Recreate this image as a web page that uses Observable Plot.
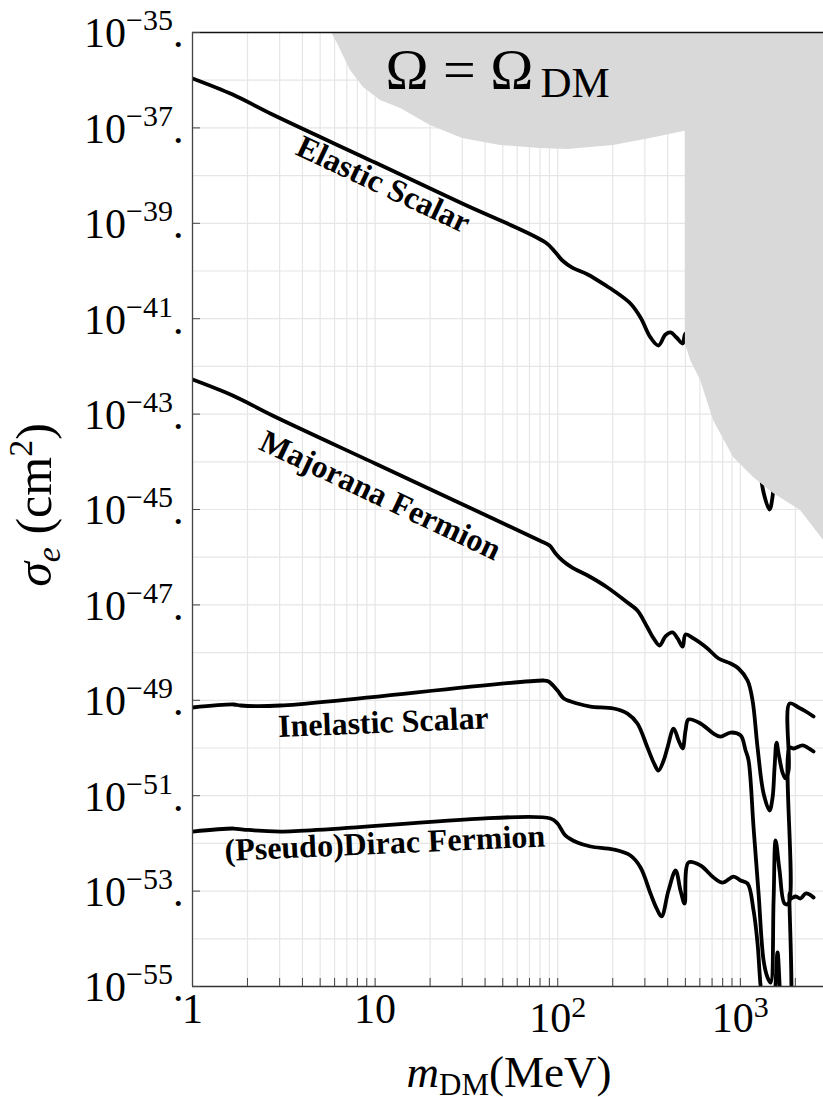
<!DOCTYPE html>
<html>
<head>
<meta charset="utf-8">
<script src="https://cdn.jsdelivr.net/npm/d3@7"></script>
<script src="https://cdn.jsdelivr.net/npm/@observablehq/plot@0.6"></script>
<style>
  html, body { margin: 0; padding: 0; background: #fff; }
  #chart { width: 823px; height: 1097px; overflow: hidden; }
</style>
</head>
<body>
<div id="chart"></div>
<script>
// Relic-target DM–electron cross sections σ_e (cm²) against DM mass (MeV)

// Elastic scalar
const elasticMass  = [1, 1.66, 2.74, 10, 30, 85.8, 97.3, 106, 120, 146, 187, 202, 250, 284, 322, 356, 389, 415, 447, 483,
                      501, 554, 661, 760, 884, 977, 1095, 1166, 1242, 1340, 1445, 1501, 1539, 1578, 1619, 1702, 1768, 1837,
                      1860, 2136, 2517];
const elasticSigma = [1.09e-36, 5.01e-37, 1.91e-37, 1.88e-38, 2.60e-39, 3.95e-40, 2.44e-40, 1.66e-40, 1.18e-40, 8.45e-41,
                      4.73e-41, 3.90e-41, 2.08e-41, 1.06e-41, 4.04e-42, 2.74e-42, 4.67e-42, 5.14e-42, 4.04e-42, 3.02e-42,
                      4.90e-42, 4.04e-42, 2.49e-42, 1.54e-42, 1.21e-42, 9.48e-43, 5.31e-43, 2.02e-43, 2.09e-44, 2.27e-45,
                      1.00e-45, 1.87e-45, 7.96e-45, 2.67e-44, 1.57e-44, 6.27e-45, 4.69e-45, 8.77e-45,
                      1.75e-43, 1.44e-43, 9.82e-44];

// Majorana fermion
const majoranaMass  = [1, 1.66, 2.74, 10, 30, 79.5, 90.2, 97.3, 106, 120, 146, 187, 241, 273, 310, 335, 361, 389, 425, 453,
                       483, 501, 554, 661, 760, 884, 977, 1095, 1166, 1242, 1340, 1445, 1501, 1539, 1578, 1619, 1702, 1768,
                       1837, 1860, 2083, 2333, 2517];
const majoranaSigma = [5.31e-43, 2.45e-43, 9.35e-44, 9.20e-45, 1.29e-45, 2.24e-46, 1.76e-46, 1.20e-46, 8.53e-47, 6.08e-47,
                       4.13e-47, 2.32e-47, 1.12e-47, 7.64e-48, 3.36e-48, 1.98e-48, 1.41e-48, 2.18e-48, 2.64e-48, 1.98e-48,
                       1.34e-48, 2.39e-48, 1.98e-48, 1.22e-48, 7.52e-49, 5.90e-49, 4.64e-49, 2.60e-49, 9.91e-50, 1.02e-50,
                       1.11e-51, 4.90e-52, 9.16e-52, 3.90e-51, 1.30e-50, 7.67e-51, 3.06e-51, 2.30e-51,
                       3.40e-51, 8.57e-50, 7.06e-50, 5.55e-50, 4.57e-50];

// Inelastic scalar
const inelasticMass  = [1, 1.68, 1.83, 3.03, 83.6, 89.1, 99.7, 108, 128, 151, 202, 241, 273, 310, 335, 356, 380, 399, 431,
                        459, 483, 501, 520, 605, 713, 779, 884, 1003, 1068, 1109, 1181, 1258, 1340, 1409, 1464, 1520, 1559,
                        1639, 1746, 1837, 1860, 1956, 2191, 2333, 2517];
const inelasticSigma = [7.06e-50, 8.17e-50, 7.78e-50, 7.78e-50, 2.60e-49, 2.48e-49, 1.60e-49, 1.09e-49, 8.57e-50, 7.41e-50,
                        6.73e-50, 5.28e-50, 3.27e-50, 1.02e-50, 4.97e-51, 3.37e-51, 5.47e-51, 1.02e-50, 2.56e-50,
                        1.44e-50, 9.77e-51, 2.33e-50, 3.95e-50, 3.27e-50, 2.01e-50, 1.74e-50, 2.11e-50, 1.83e-50, 8.87e-51,
                        5.47e-51, 2.15e-52, 8.91e-54, 3.51e-55, 1.55e-55, 1.21e-55, 6.35e-54, 1.15e-52,
                        2.70e-53, 5.50e-54, 5.50e-54, 1.02e-50, 9.77e-51, 1.13e-50, 1.02e-50, 8.45e-51];

// (Pseudo)Dirac fermion
const diracMass  = [1, 1.68, 1.90, 3.03, 91.3, 99.7, 110, 128, 151, 202, 250, 284, 322, 348, 370, 404, 442, 470, 495, 520,
                    605, 713, 799, 918, 1003, 1095, 1181, 1242, 1290, 1340, 1464, 1539, 1598, 1661, 1746, 1837, 1860,
                    1883, 2006, 2136, 2275, 2393, 2517];
const diracSigma = [1.77e-52, 2.05e-52, 1.95e-52, 1.77e-52, 3.33e-52, 2.61e-52, 1.47e-52, 1.04e-52, 8.61e-53, 7.45e-53,
                    5.57e-53, 3.13e-53, 8.91e-54, 4.32e-54, 2.94e-54, 1.03e-53, 2.70e-53, 1.03e-53, 5.50e-54, 3.98e-53,
                    3.44e-53, 1.93e-53, 1.51e-53, 2.02e-53, 1.67e-53, 1.44e-53, 3.92e-54, 7.96e-55, 1.05e-55, 3.14e-56,
                    1.20e-56, 5.08e-56, 5.16e-55, 5.08e-56, 1.20e-56, 1.20e-56, 8.91e-54,
                    7.00e-54, 7.71e-54, 7.00e-54, 8.91e-54, 8.49e-54, 7.35e-54];

// Shaded region (Ω = Ω_DM): lower edge of the excluded band
const relicMass  = [5.77, 6.22, 7.33, 8.64, 10.7, 13.8, 20.1, 30.1, 48.6, 80.5, 113, 202, 322, 489, 500, 500, 534, 606,
                    713, 918, 1181, 1520, 2137, 2518, 2857, 3000];
const relicLower = [1e-35, 5.87e-36, 1.60e-36, 7.03e-37, 3.75e-37, 2.55e-37, 1.12e-37, 6.0e-38, 4.28e-38, 3.70e-38,
                    3.52e-38, 4.28e-38, 6.0e-38, 8.41e-38, 8.41e-38, 3.02e-42, 1.33e-42, 5.06e-43, 7.35e-44, 1.23e-44,
                    4.69e-45, 2.16e-45, 9.53e-46, 4.20e-46, 2.24e-46, 1.76e-46];

// Curve labels
const labelText  = ["Elastic Scalar", "Majorana Fermion", "Inelastic Scalar", "(Pseudo)Dirac Fermion"];
const labelMass  = [11.1, 10.7, 11.1, 11.3];
const labelSigma = [6.5e-39, 1.97e-45, 3.43e-50, 1.0e-52];
const labelAngle = [25.2, 25.3, -2.4, -2.6];

// Axes
const xDomain = [1, 3000];
const yDomain = [1e-55, 1e-35];
const xGridValues = [1, 2, 3, 4, 5, 6, 7, 8, 9, 10, 20, 30, 40, 50, 60, 70, 80, 90,
                     100, 200, 300, 400, 500, 600, 700, 800, 900, 1000, 2000, 3000];
const xLabelValues = [1, 10, 100, 1000];
const yGridValues = [1e-35, 1e-36, 1e-37, 1e-38, 1e-39, 1e-40, 1e-41, 1e-42, 1e-43, 1e-44, 1e-45,
                     1e-46, 1e-47, 1e-48, 1e-49, 1e-50, 1e-51, 1e-52, 1e-53, 1e-54, 1e-55];
const yLabelValues = [1e-35, 1e-37, 1e-39, 1e-41, 1e-43, 1e-45, 1e-47, 1e-49, 1e-51, 1e-53, 1e-55];

const series = (mass, sigma) => mass.map((m, i) => ({m, s: sigma[i]}));
const curves = [
  series(elasticMass, elasticSigma),
  series(majoranaMass, majoranaSigma),
  series(inelasticMass, inelasticSigma),
  series(diracMass, diracSigma)
];
const relic = relicMass.map((m, i) => ({m, lo: relicLower[i], hi: yDomain[1]}));
const labels = labelText.map((text, i) => ({text, m: labelMass[i], s: labelSigma[i], angle: labelAngle[i]}));

const exponent = (d) => Math.round(Math.log10(d));
const minus = (e) => (e < 0 ? "\u2212" + (-e) : String(e));
const yFormat = (d) => `10^${minus(exponent(d))}.`;
const xFormat = (d) => {
  const e = exponent(d);
  return e === 0 ? "1" : e === 1 ? "10" : `10^${e}`;
};

const serif = "'Liberation Serif', 'Times New Roman', Times, serif";

const svgNode = Plot.plot({
  width: 823,
  height: 1097,
  marginLeft: 192,
  marginRight: 0,
  marginTop: 32,
  marginBottom: 111,
  style: {fontFamily: serif, background: "#fff", color: "#000", overflow: "hidden"},
  x: {type: "log", domain: xDomain, range: [192, 827]},
  y: {type: "log", domain: yDomain},
  marks: [
    Plot.gridX(xGridValues, {stroke: "#e6e6e6", strokeOpacity: 1, strokeWidth: 1.2}),
    Plot.gridY(yGridValues, {stroke: "#e6e6e6", strokeOpacity: 1, strokeWidth: 1.2}),
    ...curves.map((rows) =>
      Plot.line(rows, {x: "m", y: "s", stroke: "#000", strokeWidth: 3.8, curve: "catmull-rom",
                       strokeLinejoin: "round", clip: true})
    ),
    Plot.areaY(relic, {x: "m", y1: "lo", y2: "hi", fill: "#d9d9d9", clip: true}),
    Plot.ruleY([yDomain[1]], {stroke: "#111", strokeWidth: 1.3}),
    Plot.ruleY([yDomain[0]], {stroke: "#333", strokeWidth: 1.3}),
    Plot.ruleX([xDomain[0]], {stroke: "#444", strokeWidth: 1.3}),
    Plot.axisX(xGridValues, {tickSize: -8, fill: "none", stroke: "#444", label: null}),
    Plot.axisX(xLabelValues, {tickSize: 0, tickPadding: 7, fontSize: 42, tickFormat: xFormat, label: null}),
    Plot.axisY(yLabelValues, {tickSize: -8, fill: "none", stroke: "#444", label: null}),
    Plot.axisY(yLabelValues, {tickSize: 0, tickPadding: 9, fontSize: 42, tickFormat: yFormat, label: null}),
    Plot.text(labels, {x: "m", y: "s", text: "text", rotate: "angle", fontSize: 32, fontWeight: "bold", fill: "#000"}),
    Plot.text([{m: 11.4, s: 1.64e-36}], {x: "m", y: "s", text: () => "Ω = Ω", textAnchor: "start", fontSize: 58, fill: "#000"}),
    Plot.text([{m: 80.5, s: 8.45e-37}], {x: "m", y: "s", text: () => "DM", textAnchor: "start", fontSize: 43, fill: "#000"})
  ]
});

document.getElementById("chart").appendChild(svgNode);
const svg = d3.select(svgNode);

// Turn "10^e" tick strings into a base with a raised exponent
function raise(node, {base = 0, up, size}) {
  const str = node.textContent;
  const match = str.match(/^(\d+)\^([^.]+)(\.?)$/);
  const t = d3.select(node);
  if (!match) { if (base) { t.text(null); t.append("tspan").attr("dy", base).text(str); } return; }
  t.text(null);
  t.append("tspan").attr("dy", base).text(match[1]);
  t.append("tspan").attr("dy", -up).attr("font-size", size).text(match[2]);
  if (match[3]) t.append("tspan").attr("dy", up).text(match[3]);
}
svg.selectAll('g[aria-label="y-axis tick label"] text').each(function () { raise(this, {base: 1.5, up: 17, size: 30}); });
svg.selectAll('g[aria-label="x-axis tick label"] text').each(function () {
  if (this.textContent.includes("^")) raise(this, {base: 9, up: 15, size: 30});
});

// Axis titles
const xt = svg.append("text")
  .attr("x", 509).attr("y", 1087)
  .attr("text-anchor", "middle")
  .attr("font-family", serif).attr("font-size", 45).attr("fill", "#000");
xt.append("tspan").attr("font-style", "italic").text("m");
xt.append("tspan").attr("font-size", 31).attr("dy", 8).text("DM");
xt.append("tspan").attr("dy", -8).text("(MeV)");

const yt = svg.append("text")
  .attr("transform", "translate(51,505) rotate(-90)")
  .attr("text-anchor", "middle")
  .attr("font-family", serif).attr("font-size", 50).attr("fill", "#000");
yt.append("tspan").attr("font-style", "italic").text("σ");
yt.append("tspan").attr("font-style", "italic").attr("font-size", 34).attr("dy", 9).text("e");
yt.append("tspan").attr("dy", -9).text(" (cm");
yt.append("tspan").attr("font-size", 34).attr("dy", -19).text("2");
yt.append("tspan").attr("dy", 19).text(")");
</script>
</body>
</html>
